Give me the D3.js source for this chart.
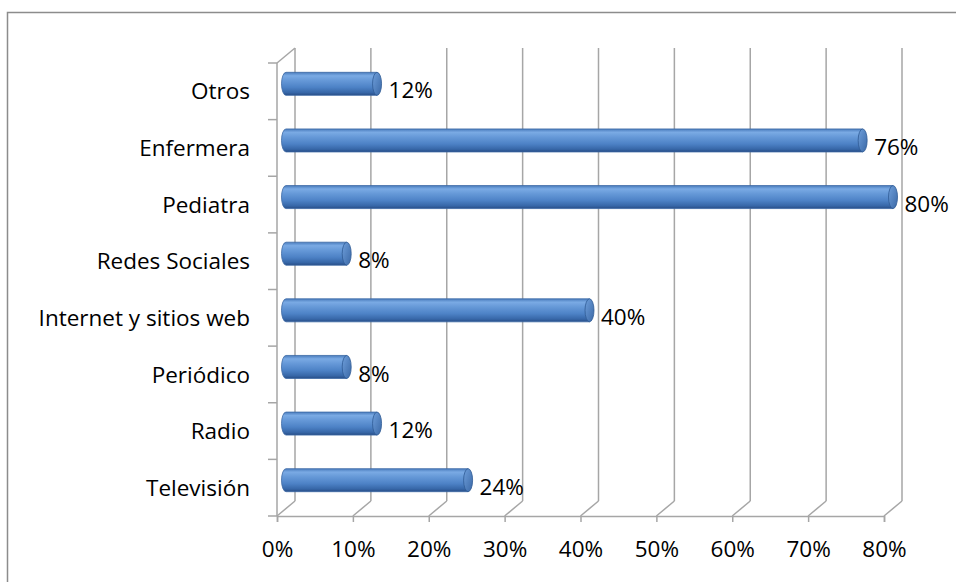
<!DOCTYPE html>
<html><head><meta charset="utf-8">
<script src="https://cdn.jsdelivr.net/npm/d3@7"></script>
<style>body{margin:0;background:#fff}svg{display:block}text{font-family:"Open Sans",sans-serif;fill:#000}</style>
</head><body><svg id="c" width="956" height="582"></svg>
<script>
const categories = ["Otros","Enfermera","Pediatra","Redes Sociales","Internet y sitios web","Periódico","Radio","Televisión"];
const values = [0.12,0.76,0.80,0.08,0.40,0.08,0.12,0.24];
const valueLabels = ["12%","76%","80%","8%","40%","8%","12%","24%"];
const tickValues = [0,0.1,0.2,0.3,0.4,0.5,0.6,0.7,0.8];

const FS=22.5;
const svg = d3.select("#c");
const W=956,H=582;
svg.append("rect").attr("x",7.5).attr("y",12.5).attr("width",W).attr("height",H).attr("fill","#fff").attr("stroke","#8c8c8c").attr("stroke-width",1.5);

const x = d3.scaleLinear().domain([0,0.8]).range([277,884]);
const y = d3.scaleBand().domain(categories).range([63,516]);
const dx=18, dy=-15;
const floorY=516, topY=63;
const grid="#a6a6a6";
const g=svg.append("g");

tickValues.forEach(t=>{
  g.append("line").attr("x1",x(t)+dx).attr("x2",x(t)+dx).attr("y1",floorY+dy).attr("y2",topY+dy).attr("stroke",grid).attr("stroke-width",1.5);
  g.append("line").attr("x1",x(t)).attr("y1",floorY).attr("x2",x(t)+dx).attr("y2",floorY+dy).attr("stroke",grid).attr("stroke-width",1.5);
});
g.append("line").attr("x1",x(0)).attr("x2",x(0)).attr("y1",topY).attr("y2",floorY).attr("stroke",grid).attr("stroke-width",1.5);
g.append("line").attr("x1",x(0)).attr("y1",topY).attr("x2",x(0)+dx).attr("y2",topY+dy).attr("stroke",grid).attr("stroke-width",1.5);
const xAxis=d3.axisBottom(x).tickValues(tickValues).tickFormat(d3.format(".0%")).tickSize(6).tickPadding(19);
const ax=svg.append("g").attr("transform",`translate(0,${floorY})`).call(xAxis);
ax.select(".domain").attr("stroke",grid).attr("stroke-width",1.5);
ax.selectAll(".tick line").attr("stroke",grid).attr("stroke-width",1.5);
ax.selectAll(".tick text").attr("font-size",FS).attr("font-family","Open Sans").attr("fill","#000");
const yAxis=d3.axisLeft(y).tickSize(0).tickPadding(27);
const ay=svg.append("g").attr("transform",`translate(${x(0)},0)`).call(yAxis);
ay.select(".domain").remove();
ay.selectAll(".tick text").attr("font-size",FS).attr("font-family","Open Sans").attr("fill","#000").attr("dy","0.36em");
const bounds=categories.map(c=>y(c)).concat([floorY]);
bounds.forEach(b=>{
  g.append("line").attr("x1",x(0)-9).attr("x2",x(0)).attr("y1",b).attr("y2",b).attr("stroke",grid).attr("stroke-width",1.5);
});

const defs=svg.append("defs");
const lg=defs.append("linearGradient").attr("id","cyl").attr("x1",0).attr("y1",0).attr("x2",0).attr("y2",1);
[[0,"#4a7cbd"],[0.15,"#7aaae4"],[0.35,"#6699d8"],[0.65,"#4d82c6"],[0.88,"#3767a8"],[1,"#284d86"]].forEach(s=>lg.append("stop").attr("offset",s[0]).attr("stop-color",s[1]));
const cg=defs.append("linearGradient").attr("id","cap").attr("x1",0).attr("y1",0).attr("x2",1).attr("y2",1);
[[0,"#6f9fdb"],[1,"#3a68a6"]].forEach(s=>cg.append("stop").attr("offset",s[0]).attr("stop-color",s[1]));

const bh=23, rx=4.5;
const bars=svg.append("g").selectAll("g").data(categories).join("g");
bars.each(function(c,i){
  const gg=d3.select(this);
  const cy=y(c)+y.bandwidth()/2+dy/2;
  const x0=x(0)+dx/2, x1=x(values[i])+dx/2;
  gg.append("path").attr("d",`M${x0},${cy-bh/2} L${x1},${cy-bh/2} L${x1},${cy+bh/2} L${x0},${cy+bh/2} A${rx},${bh/2} 0 0 1 ${x0},${cy-bh/2} Z`)
    .attr("fill","url(#cyl)").attr("stroke","#3b68a4").attr("stroke-width",0.8);
  gg.append("ellipse").attr("cx",x1).attr("cy",cy).attr("rx",rx).attr("ry",bh/2).attr("fill","url(#cap)").attr("stroke","#2f5a94").attr("stroke-width",0.8);
  svg.append("text").attr("x",x1+rx+7).attr("y",y(c)+y.bandwidth()/2-1).attr("dy","0.36em").attr("font-size",FS).text(valueLabels[i]);
});
</script></body></html>
